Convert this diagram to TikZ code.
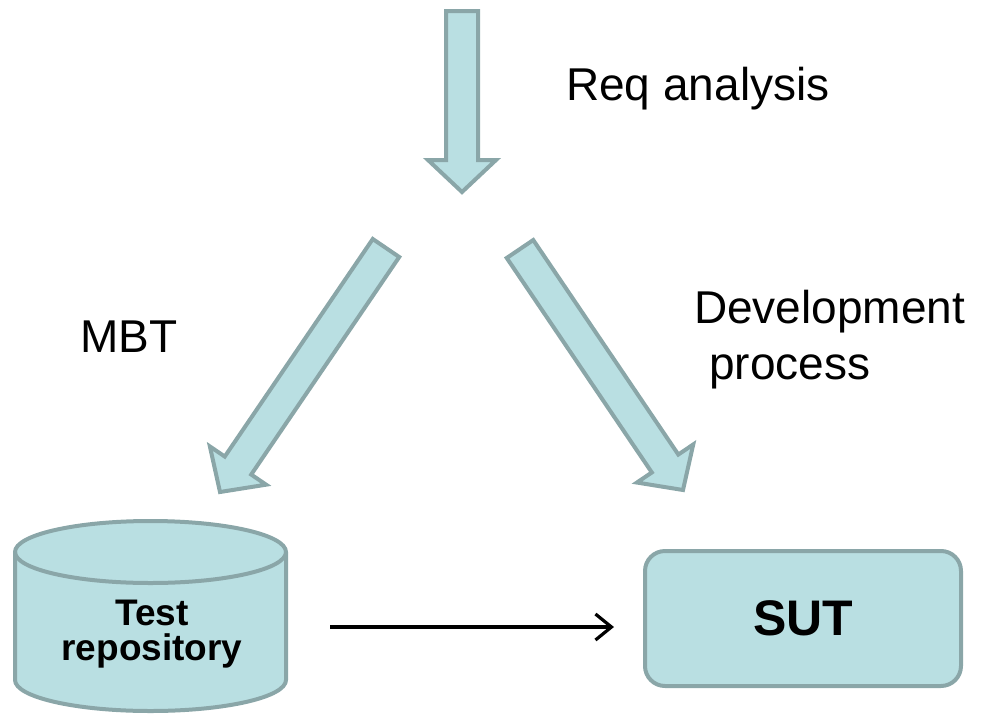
\documentclass[tikz,border=0pt]{standalone}
\usepackage{fontspec}
\setmainfont{Liberation Sans}
\usetikzlibrary{calc,arrows.meta}

\definecolor{blockfill}{RGB}{185,223,226}
\definecolor{blockline}{RGB}{138,166,168}

\tikzset{
  blockarrow/.style={fill=blockfill, draw=blockline, line width=4pt, line join=miter},
  label46/.style={inner sep=0pt, font=\fontsize{46}{52}\selectfont},
  sutbox/.style={rectangle, rounded corners=20pt, fill=blockfill, draw=blockline,
    line width=4pt, minimum width=316pt, minimum height=135pt,
    font=\fontsize{50}{56}\selectfont\bfseries},
  repotext/.style={align=center, inner sep=0pt,
    font=\fontsize{37}{35}\selectfont\bfseries},
  link/.style={line width=3.2pt, -{Straight Barb[length=16pt,width=26pt,line width=3.2pt]}},
}

% block arrow from tail centre #1 to tip #2
\newcommand{\blockarrow}[2]{%
  \path[blockarrow]
    ($(#1)!16pt!90:(#2)$) --
    ($($(#2)!32pt!(#1)$)!16pt!-90:(#1)$) --
    ($($(#2)!32pt!(#1)$)!34pt!-90:(#1)$) --
    (#2) --
    ($($(#2)!32pt!(#1)$)!34pt!90:(#1)$) --
    ($($(#2)!32pt!(#1)$)!16pt!90:(#1)$) --
    ($(#1)!16pt!-90:(#2)$) -- cycle;}

\begin{document}
\begin{tikzpicture}[x=1pt,y=-1pt]
  \useasboundingbox (0,0) rectangle (988,715);

  % arrow end points
  \coordinate (topT) at (462,11);
  \coordinate (topH) at (462,192);
  \coordinate (leftT) at (386,248);
  \coordinate (leftH) at (220,492);
  \coordinate (rightT) at (520,249);
  \coordinate (rightH) at (683,490);

  \blockarrow{topT}{topH}
  \blockarrow{leftT}{leftH}
  \blockarrow{rightT}{rightH}

  % labels
  \node[label46, anchor=base west] (req) at (566,100) {Req analysis};
  \node[label46, anchor=base west] (mbt) at (80,352) {MBT};
  \node[label46, anchor=base west] (dev) at (694,323) {Development};
  \node[label46, anchor=base west] (proc) at (709,379) {process};

  % test repository drum
  \path[fill=blockfill, draw=blockline, line width=4pt]
    (15,552) -- (15,680)
    arc[start angle=180, end angle=360, x radius=135.5pt, y radius=31pt]
    -- (286,552)
    arc[start angle=0, end angle=180, x radius=135.5pt, y radius=31pt] -- cycle;
  \path[draw=blockline, line width=4pt]
    (15,552) arc[start angle=180, end angle=360, x radius=135.5pt, y radius=31pt];
  \node[repotext] (repo) at (152,634) {Test\\repository};

  % system under test
  \node[sutbox] (sut) at (803,618.5) {SUT};

  % link from repository to SUT
  \coordinate (linkS) at (330,627);
  \draw[link, shorten >=29pt] (linkS) -- (linkS -| sut.west);
\end{tikzpicture}
\end{document}
